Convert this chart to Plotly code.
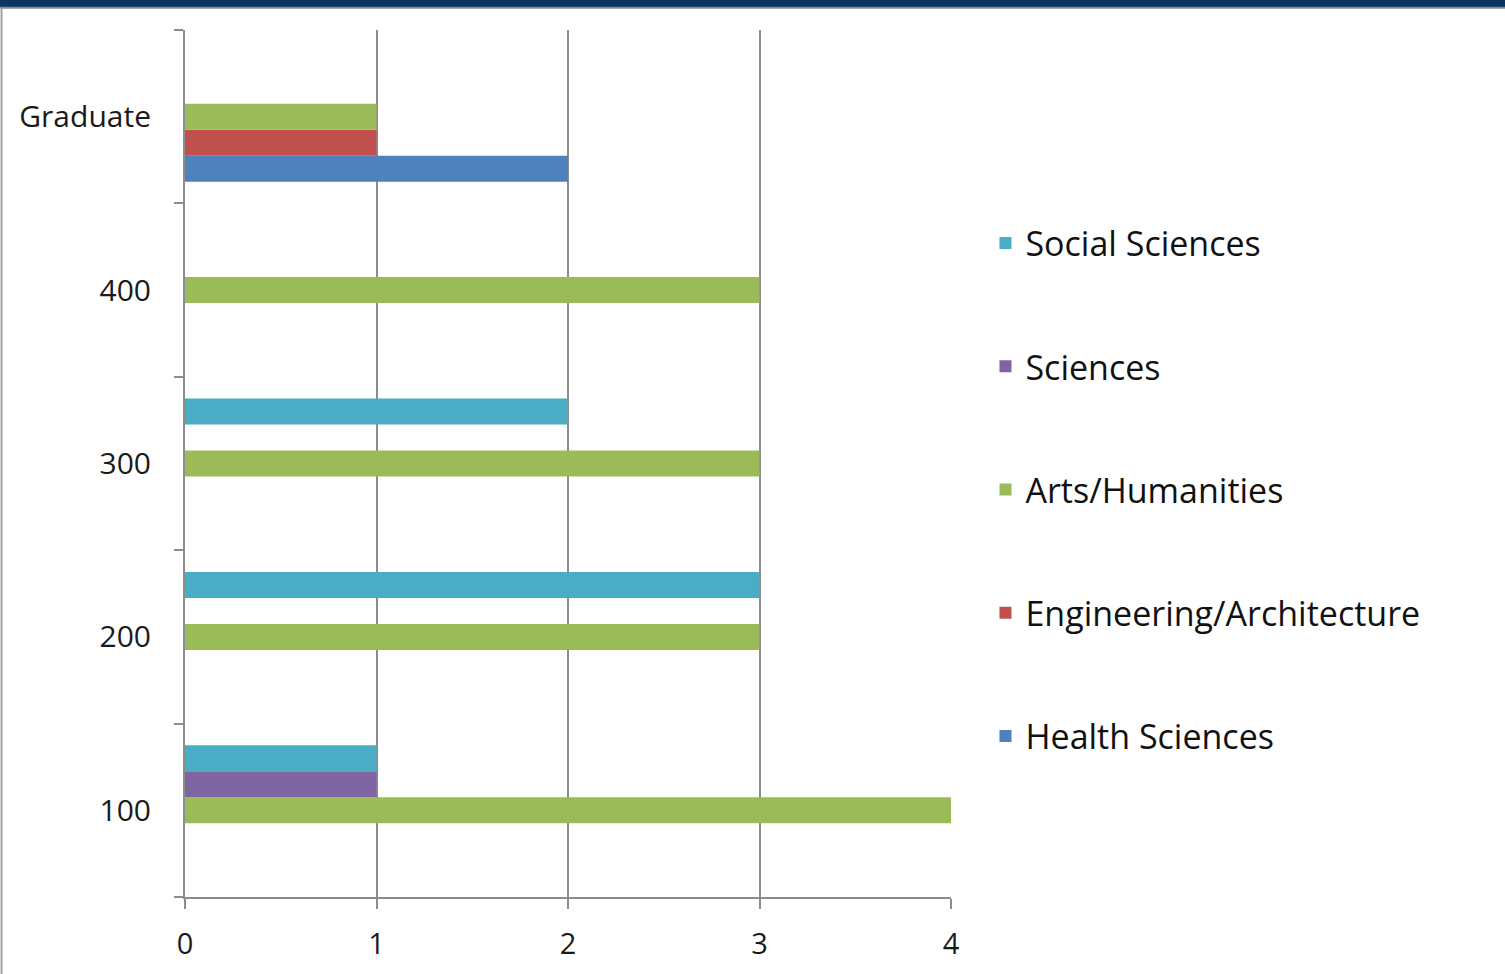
import plotly.graph_objects as go

LEVELS = ["100", "200", "300", "400", "Graduate"]
SERIES = [
    "Health Sciences",
    "Engineering/Architecture",
    "Arts/Humanities",
    "Sciences",
    "Social Sciences",
]
HEALTH = [0, 0, 0, 0, 2]
ENGINEERING = [0, 0, 0, 0, 1]
ARTS = [4, 3, 3, 3, 1]
SCIENCES = [1, 0, 0, 0, 0]
SOCIAL = [1, 3, 2, 0, 0]
X_TICKS = [0, 1, 2, 3, 4]

COLORS = {
    "Health Sciences": "#4F81BD",
    "Engineering/Architecture": "#C0504D",
    "Arts/Humanities": "#9BBB59",
    "Sciences": "#8064A2",
    "Social Sciences": "#4BACC6",
}

values = [HEALTH, ENGINEERING, ARTS, SCIENCES, SOCIAL]

fig = go.Figure()
for i, (name, vals) in enumerate(zip(SERIES, values)):
    fig.add_trace(
        go.Bar(
            y=LEVELS,
            x=vals,
            name=name,
            orientation="h",
            marker=dict(color=COLORS[name], line=dict(width=0)),
            legendgroup=name,
            legendrank=1000 - i,
        )
    )

font_family = "'Open Sans', sans-serif"
fig.update_layout(
    width=1505,
    height=974,
    barmode="group",
    bargap=0.25,
    bargroupgap=0,
    plot_bgcolor="white",
    paper_bgcolor="white",
    font=dict(family=font_family, color="#1a1a1a", size=30),
    margin=dict(l=185, r=554, t=30, b=74),
    legend=dict(
        x=1.045,
        y=0.47,
        xanchor="left",
        yanchor="middle",
        traceorder="grouped",
        tracegroupgap=76,
        font=dict(size=34, family=font_family, color="#111111"),
        bgcolor="rgba(0,0,0,0)",
    ),
    shapes=[
        dict(type="rect", xref="paper", yref="paper", x0=-0.3, x1=1.8,
             y0=1.0264, y1=1.06, fillcolor="#0B355F", line=dict(width=0), layer="above"),
        dict(type="line", xref="paper", yref="paper", x0=-0.3, x1=1.8,
             y0=1.0258, y1=1.0258, line=dict(color="#8A8A8A", width=2)),
        dict(type="line", xref="paper", yref="paper", x0=-0.2395, x1=-0.2395,
             y0=-0.1, y1=1.0258, line=dict(color="#A0A0A0", width=2)),
    ],
)
fig.update_xaxes(
    range=[0, 4],
    tickvals=X_TICKS,
    showgrid=True,
    gridcolor="#8C8C8C",
    gridwidth=1.5,
    zeroline=False,
    showline=True,
    linecolor="#8C8C8C",
    linewidth=2,
    ticks="outside",
    ticklen=10,
    tickwidth=1.5,
    tickcolor="#8C8C8C",
    ticklabelstandoff=10,
    tickfont=dict(size=29),
)
fig.update_yaxes(
    type="category",
    categoryorder="array",
    categoryarray=LEVELS,
    showgrid=False,
    showline=True,
    linecolor="#8C8C8C",
    linewidth=2,
    ticks="outside",
    tickson="boundaries",
    ticklen=9,
    tickwidth=1.5,
    tickcolor="#8C8C8C",
    ticklabelstandoff=26,
    tickfont=dict(size=30),
)

fig.write_html(
    "out.html",
    config={"displayModeBar": False},
    post_script="document.body.style.margin='0';",
)
